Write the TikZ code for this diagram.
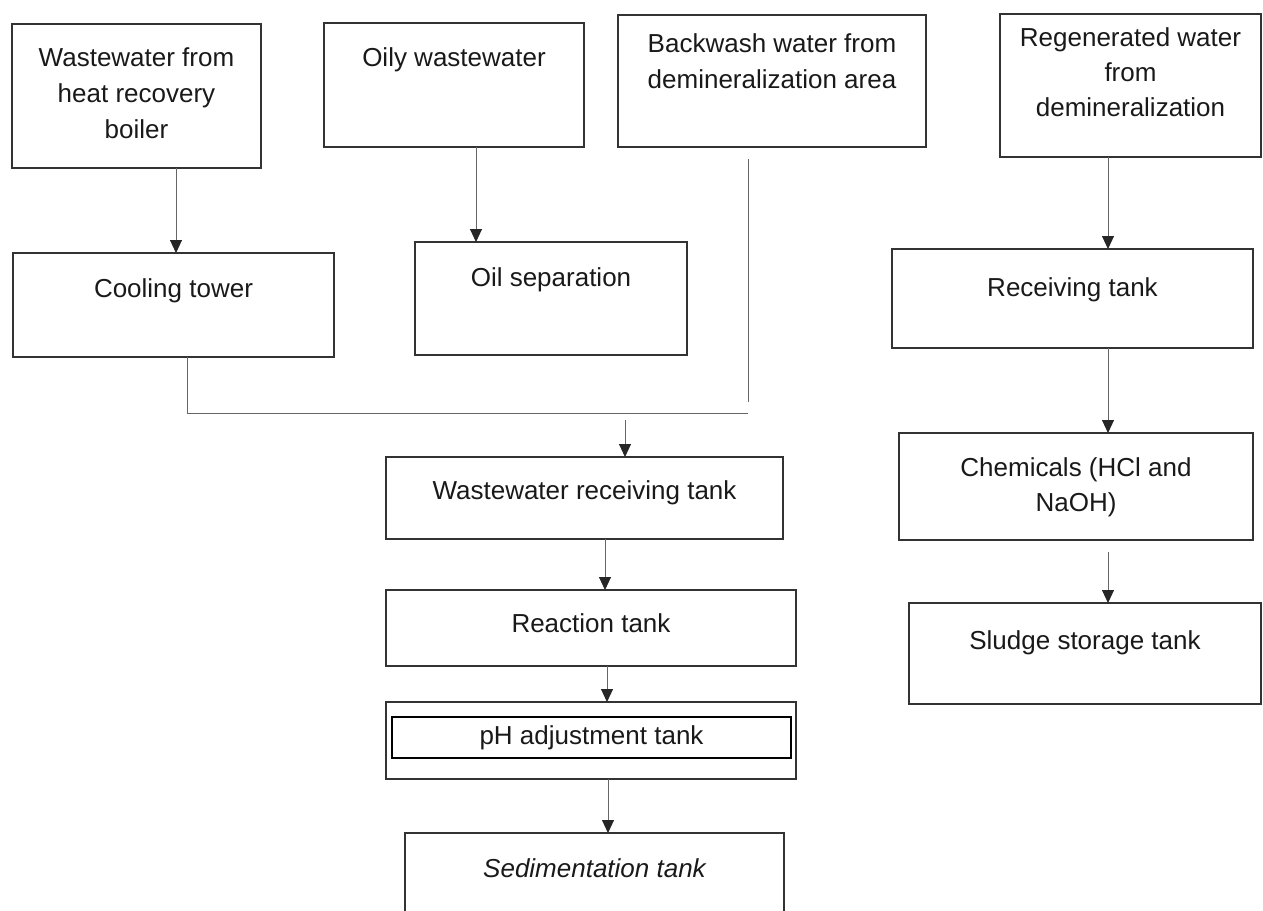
\documentclass[tikz,border=0pt]{standalone}
\usepackage{fontspec}
\setmainfont{Liberation Sans}
\usetikzlibrary{arrows.meta,fit}

\tikzset{
  procbox/.style={draw=black!80, line width=1.3pt, inner sep=0pt, outer sep=0pt},
  lbl/.style={font=\fontsize{26}{36}\selectfont, align=center, inner sep=0pt, text=black!90},
  link/.style={draw=black!60, line width=1pt},
  flow/.style={link, -{Triangle[width=12pt,length=13pt,fill=black!85,color=black!85]}},
}

% a rectangle spanned by two corners
\newcommand\procrect[5]{\node[procbox, fit={(#2,#3)(#4,#5)}] (#1) {};}

\begin{document}
\begin{tikzpicture}[x=1pt,y=-1pt]
\useasboundingbox (0,0) rectangle (1263,910);

% sources
\procrect{src1}{12}{24}{261}{168}
\node[lbl, anchor=north] (src1t) at ([yshift=-23pt]src1.north) {Wastewater from\\heat recovery\\boiler};
\procrect{src2}{324}{23}{584}{147}
\node[lbl, anchor=north] (src2t) at ([yshift=-24pt]src2.north) {Oily wastewater};
\procrect{src3}{618}{15}{926}{147}
\node[lbl, anchor=north] (src3t) at ([yshift=-18pt]src3.north) {Backwash water from\\demineralization area};
\procrect{src4}{1000}{14}{1261}{157}
\node[lbl, anchor=north, font=\fontsize{26}{35}\selectfont] (src4t) at ([yshift=-13pt]src4.north) {Regenerated water\\from\\demineralization};

% first treatment stage
\procrect{cool}{13}{253}{334}{357}
\node[lbl, anchor=north] (coolt) at ([yshift=-25pt]cool.north) {Cooling tower};
\procrect{oilsep}{415}{242}{687}{355}
\node[lbl, anchor=north] (oilsept) at ([yshift=-25pt]oilsep.north) {Oil separation};
\procrect{recv}{892}{249}{1253}{348}
\node[lbl, anchor=north] (recvt) at ([yshift=-28pt]recv.north) {Receiving tank};

% main line
\procrect{wrt}{386}{457}{783}{539}
\node[lbl, anchor=north] (wrtt) at ([yshift=-23pt]wrt.north) {Wastewater receiving tank};
\procrect{react}{386}{590}{796}{666}
\node[lbl, anchor=north] (reactt) at ([yshift=-23pt]react.north) {Reaction tank};
\procrect{phout}{386}{702}{796}{779}
\node[procbox, line width=1.5pt, draw=black, fit={(392,717)(791,758)}] (phin) {};
\node[lbl] (pht) at (phin.center) {pH adjustment tank};
\procrect{sed}{405}{833}{784}{916}
\node[lbl, anchor=north, font=\fontsize{26}{36}\selectfont\itshape] (sedt) at ([yshift=-25pt]sed.north) {Sedimentation tank};

% regeneration line
\procrect{chem}{899}{433}{1253}{540}
\node[lbl, anchor=north, font=\fontsize{26}{35}\selectfont] (chemt) at ([yshift=-24pt]chem.north) {Chemicals (HCl and\\NaOH)};
\procrect{sludge}{909}{603}{1261}{704}
\node[lbl, anchor=north] (sludget) at ([yshift=-27pt]sludge.north) {Sludge storage tank};

% junction points of the collector line
\coordinate (jl) at (187,413);
\coordinate (jr) at (748,413);
\coordinate (jm) at (625,413);

% connectors
\draw[flow] (src1.south -| 176,0) -- (cool.north -| 176,0);
\draw[flow] (src2.south -| 476,0) -- (oilsep.north -| 476,0);
\draw[flow] (src4.south -| 1108,0) -- (recv.north -| 1108,0);

\draw[link] (cool.south -| jl) -- (jl) -- (jr);
\draw[link, shorten <=12pt] (src3.south -| jr) -- ([yshift=11pt]jr);
\draw[flow, shorten <=7pt] (jm) -- (wrt.north -| jm);

\draw[flow] (wrt.south -| 605,0) -- (react.north -| 605,0);
\draw[flow] (react.south -| 607,0) -- (phout.north -| 607,0);
\draw[flow] (phout.south -| 608,0) -- (sed.north -| 608,0);

\draw[flow] (recv.south -| 1108,0) -- (chem.north -| 1108,0);
\draw[flow, shorten <=12pt] (chem.south -| 1108,0) -- (sludge.north -| 1108,0);
\end{tikzpicture}
\end{document}
